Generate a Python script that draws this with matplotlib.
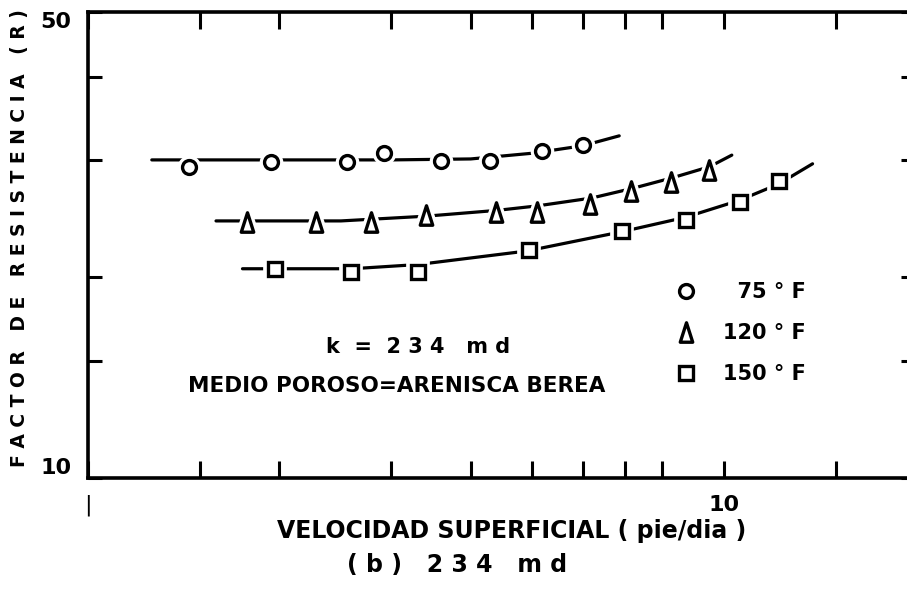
import matplotlib.pyplot as plt
from matplotlib.path import Path
from matplotlib.lines import Line2D

plt.rcParams['font.family'] = ['DejaVu Sans']
plt.rcParams['font.weight'] = 'bold'

# puntos medidos (velocidad superficial en pie/dia, factor de resistencia R)
v_75 = [1.44, 1.94, 2.56, 2.92, 3.59, 4.29, 5.18, 6.01]
r_75 = [29.3, 29.8, 29.8, 30.7, 29.9, 29.9, 30.9, 31.6]

v_120 = [1.78, 2.28, 2.79, 3.40, 4.38, 5.09, 6.17, 7.16, 8.25, 9.50]
r_120 = [24.2, 24.2, 24.2, 24.8, 25.1, 25.1, 25.8, 26.9, 27.8, 29.0]

v_150 = [1.97, 2.59, 3.30, 4.94, 6.93, 8.71, 10.6, 12.2]
r_150 = [20.6, 20.4, 20.4, 22.0, 23.5, 24.4, 25.9, 27.9]

# curvas de ajuste trazadas a mano
cv_75 = [1.26, 2.0, 3.0, 4.0, 5.0, 6.0, 6.85]
cr_75 = [30.0, 30.0, 30.0, 30.1, 30.7, 31.5, 32.6]

cv_120 = [1.59, 2.5, 3.4, 4.4, 5.1, 6.2, 7.2, 8.3, 9.5, 10.3]
cr_120 = [24.3, 24.3, 24.7, 25.2, 25.6, 26.3, 27.2, 28.2, 29.3, 30.5]

cv_150 = [1.75, 2.6, 3.3, 4.9, 6.9, 8.7, 10.6, 12.2, 13.8]
cr_150 = [20.6, 20.6, 20.9, 21.9, 23.4, 24.6, 26.1, 27.6, 29.6]

x_ticks = [1.5, 2, 3, 4, 5, 6, 7, 8, 10, 15]
y_ticks = [15, 20, 30, 40]

# triangulo angosto como en el original
tri = Path([(-0.32, -0.5), (0.32, -0.5), (0.0, 0.5), (-0.32, -0.5)],
           [Path.MOVETO, Path.LINETO, Path.LINETO, Path.CLOSEPOLY])

fig = plt.figure(figsize=(9.07, 5.99), dpi=100)
ax = fig.add_axes([88 / 907, 121 / 599, 827 / 907, 466 / 599])
ax.set_xscale('log')
ax.set_yscale('log')
ax.set_xlim(1, 20)
ax.set_ylim(10, 50)

series = [
    (cv_75, cr_75, v_75, r_75, 'o', 10),
    (cv_120, cr_120, v_120, r_120, tri, 14),
    (cv_150, cr_150, v_150, r_150, 's', 10),
]
for cv, cr, v, r, m, ms in series:
    ax.plot(cv, cr, color='black', lw=2.3, solid_capstyle='round', zorder=2)
    # hueco blanco alrededor de cada punto
    ax.plot(v, r, ls='none', marker=m, ms=ms, mfc='white', mec='white',
            mew=7, zorder=3)
    ax.plot(v, r, ls='none', marker=m, ms=ms, mfc='white', mec='black',
            mew=2.4, zorder=4)

for side in ['left', 'right', 'top', 'bottom']:
    ax.spines[side].set_linewidth(2.6)

ax.xaxis.set_minor_locator(plt.NullLocator())
ax.yaxis.set_minor_locator(plt.NullLocator())
ax.set_xticks([1] + x_ticks)
ax.set_xticklabels(['|'] + ['' if t != 10 else '10' for t in x_ticks])
ax.set_yticks([10] + y_ticks + [50])
ax.set_yticklabels(['10', '', '', '', '', '50'])
ax.tick_params(axis='x', which='major', direction='in', length=12, width=2.2,
               top=True, labelsize=16, pad=12)
ax.tick_params(axis='y', which='major', direction='in', length=10, width=2.2,
               right=True, labelsize=16, pad=12)
xl = ax.get_xticklabels()
xl[0].set_fontweight('normal')
yl = ax.get_yticklabels()
yl[0].set_va('bottom')
yl[-1].set_va('top')

fig.text(0.461, 0.421, 'k  =  2 3 4   m d', fontsize=15, ha='center',
         va='center')
fig.text(0.437, 0.356, 'MEDIO POROSO=ARENISCA BEREA', fontsize=15.5,
         ha='center', va='center')

handles = [Line2D([], [], ls='none', marker=m, ms=ms, mfc='white', mec='black',
                  mew=2.4) for _, _, _, _, m, ms in series]
ax.legend(handles, ['  75 ° F', '120 ° F', '150 ° F'], loc='upper left',
          bbox_to_anchor=(667 / 907, 1 - 274 / 599),
          bbox_transform=fig.transFigure, frameon=False, fontsize=15,
          handletextpad=1.3, labelspacing=1.0, handlelength=1.0,
          borderaxespad=0)

fig.text(0.022, 0.603, 'F A C T O R   D E   R E S I S T E N C I A   ( R )',
         rotation=90, ha='center', va='center', fontsize=13.5)
fig.text(0.5645, 0.113, 'VELOCIDAD SUPERFICIAL ( pie/dia )', ha='center',
         va='center', fontsize=17)
fig.text(0.504, 0.057, '( b )   2 3 4   m d', ha='center', va='center',
         fontsize=17)

fig.savefig('out.png', dpi=100)
